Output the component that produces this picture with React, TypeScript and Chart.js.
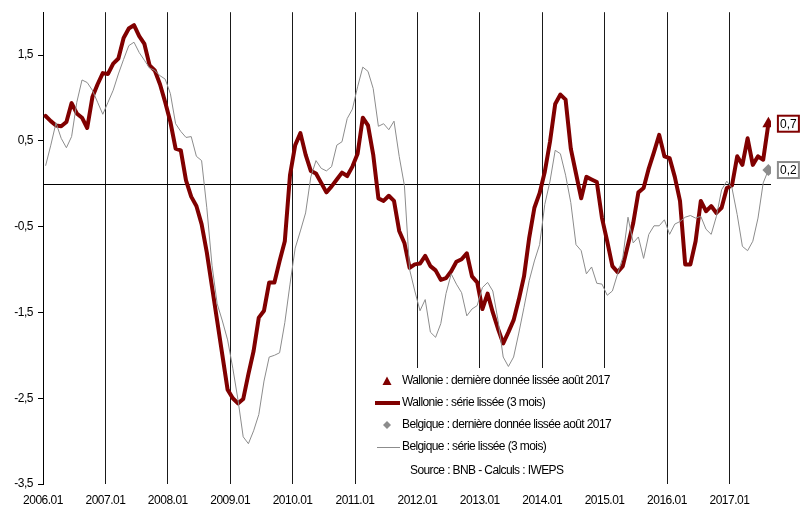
import React, { useEffect, useRef } from "react";
import { Chart, registerables } from "chart.js";

Chart.register(...registerables);

// ---- Data ----
const yearLabels = [
  "2006.01", "2007.01", "2008.01", "2009.01", "2010.01", "2011.01",
  "2012.01", "2013.01", "2014.01", "2015.01", "2016.01", "2017.01",
];
const yTicks = [-3.5, -2.5, -1.5, -0.5, 0.5, 1.5];

// Monthly smoothed values, 2006.01 -> 2017.08
const wallonie = [
  0.79, 0.73, 0.68, 0.67, 0.72, 0.94, 0.82, 0.77, 0.65, 1.01, 1.16, 1.29,
  1.28, 1.40, 1.46, 1.70, 1.81, 1.85, 1.72, 1.63, 1.38, 1.32, 1.16, 0.95,
  0.72, 0.41, 0.39, 0.04, -0.15, -0.26, -0.47, -0.80, -1.20, -1.60, -2.00, -2.40,
  -2.50, -2.56, -2.51, -2.22, -1.95, -1.56, -1.48, -1.15, -1.15, -0.90, -0.67, 0.10,
  0.45, 0.59, 0.34, 0.15, 0.12, 0.01, -0.10, -0.03, 0.05, 0.13, 0.09, 0.20,
  0.35, 0.77, 0.68, 0.34, -0.17, -0.20, -0.14, -0.20, -0.55, -0.69, -0.98, -0.94,
  -0.93, -0.84, -0.96, -1.01, -1.12, -1.10, -1.02, -0.91, -0.88, -0.81, -1.08, -1.15,
  -1.46, -1.28, -1.50, -1.69, -1.86, -1.73, -1.59, -1.35, -1.08, -0.63, -0.28, -0.11,
  0.14, 0.49, 0.93, 1.04, 0.98, 0.41, 0.12, -0.17, 0.08, 0.05, 0.02, -0.40,
  -0.67, -0.96, -1.03, -0.96, -0.71, -0.46, -0.10, -0.05, 0.18, 0.37, 0.57, 0.32,
  0.30, 0.08, -0.20, -0.94, -0.94, -0.67, -0.20, -0.32, -0.26, -0.34, -0.28, -0.05,
  -0.02, 0.32, 0.22, 0.53, 0.22, 0.32, 0.28, 0.70,
];
const belgique = [
  0.21, 0.45, 0.71, 0.53, 0.42, 0.55, 0.95, 1.21, 1.18, 1.09, 0.95, 0.81,
  0.95, 1.09, 1.28, 1.45, 1.61, 1.65, 1.53, 1.44, 1.35, 1.32, 1.26, 1.22,
  1.05, 0.70, 0.61, 0.54, 0.55, 0.32, 0.27, -0.28, -0.95, -1.40, -1.60, -1.82,
  -2.15, -2.52, -2.95, -3.03, -2.88, -2.69, -2.30, -2.02, -2.00, -1.97, -1.62, -1.17,
  -0.75, -0.55, -0.34, 0.08, 0.27, 0.18, 0.15, 0.20, 0.45, 0.49, 0.76, 0.87,
  1.13, 1.36, 1.31, 1.11, 0.67, 0.70, 0.63, 0.73, 0.32, -0.02, -1.00, -1.25,
  -1.48, -1.35, -1.73, -1.79, -1.63, -1.28, -1.05, -1.17, -1.27, -1.54, -1.46, -1.42,
  -1.21, -1.15, -1.25, -1.59, -2.02, -2.13, -2.02, -1.74, -1.44, -1.13, -0.90, -0.71,
  -0.24, 0.03, 0.39, 0.35, 0.10, -0.22, -0.71, -0.78, -1.05, -0.97, -1.16, -1.17,
  -1.30, -1.25, -1.05, -0.86, -0.39, -0.69, -0.62, -0.87, -0.59, -0.49, -0.49, -0.42,
  -0.59, -0.47, -0.44, -0.39, -0.37, -0.40, -0.38, -0.53, -0.59, -0.38, -0.07, 0.03,
  -0.05, -0.36, -0.73, -0.78, -0.67, -0.40, 0.01, 0.16,
];
const legendLabels = [
  "Wallonie : dernière donnée lissée août 2017",
  "Wallonie : série lissée (3 mois)",
  "Belgique : dernière donnée lissée août 2017",
  "Belgique : série lissée (3 mois)",
];
const sourceText = "Source : BNB - Calculs : IWEPS";

const RED = "#800000";
const GRAY = "#8c8c8c";
const FONT = "'Liberation Sans', Arial, sans-serif";

const fmt = (v: number) => v.toFixed(1).replace(".", ",");

const decorPlugin = {
  id: "decor",
  beforeDraw(chart: any) {
    chart.ctx.letterSpacing = "-0.5px";
  },
  beforeDatasetsDraw(chart: any) {
    const { ctx, chartArea, scales } = chart;
    const y0 = Math.round(scales.y.getPixelForValue(0)) + 0.5;
    ctx.save();
    ctx.strokeStyle = "#000";
    ctx.lineWidth = 1;
    ctx.beginPath();
    ctx.moveTo(chartArea.left, y0);
    ctx.lineTo(chartArea.right, y0);
    ctx.stroke();
    ctx.restore();
  },
  afterDraw(chart: any) {
    const { ctx, scales } = chart;
    ctx.save();
    ctx.letterSpacing = "-0.6px";
    // Legend block
    ctx.fillStyle = "#fff";
    ctx.fillRect(370, 368, 250, 116);
    ctx.font = `12px ${FONT}`;
    ctx.textBaseline = "middle";
    ctx.textAlign = "left";
    const rows = [381, 403, 425, 447];
    const sx = 387;
    // triangle
    ctx.fillStyle = RED;
    ctx.beginPath();
    ctx.moveTo(sx, rows[0] - 4.5);
    ctx.lineTo(sx + 4.5, rows[0] + 4);
    ctx.lineTo(sx - 4.5, rows[0] + 4);
    ctx.closePath();
    ctx.fill();
    // thick red line
    ctx.strokeStyle = RED;
    ctx.lineWidth = 4;
    ctx.beginPath();
    ctx.moveTo(375, rows[1]);
    ctx.lineTo(400, rows[1]);
    ctx.stroke();
    // diamond
    ctx.fillStyle = GRAY;
    ctx.beginPath();
    ctx.moveTo(sx, rows[2] - 4);
    ctx.lineTo(sx + 4, rows[2]);
    ctx.lineTo(sx, rows[2] + 4);
    ctx.lineTo(sx - 4, rows[2]);
    ctx.closePath();
    ctx.fill();
    // thin gray line
    ctx.strokeStyle = GRAY;
    ctx.lineWidth = 1;
    ctx.beginPath();
    ctx.moveTo(377, rows[3] + 0.5);
    ctx.lineTo(400, rows[3] + 0.5);
    ctx.stroke();
    ctx.fillStyle = "#000";
    legendLabels.forEach((t, i) => ctx.fillText(t, 402, rows[i]));
    ctx.fillText(sourceText, 410, 471);

    // End-value labels
    const last = wallonie.length - 1;
    const items = [
      { v: wallonie[last], c: RED },
      { v: belgique[last], c: GRAY },
    ];
    ctx.letterSpacing = "0px";
    items.forEach((it) => {
      const px = scales.x.getPixelForValue(last + 0.5);
      const py = scales.y.getPixelForValue(it.v);
      const left = px + 9.5;
      const w = 21;
      const h = 16;
      ctx.fillStyle = "#fff";
      ctx.fillRect(left, py - h / 2, w, h);
      ctx.strokeStyle = it.c;
      ctx.lineWidth = 2;
      ctx.strokeRect(left, py - h / 2, w, h);
      ctx.fillStyle = "#000";
      ctx.textAlign = "center";
      ctx.fillText(fmt(it.v), left + w / 2, py + 0.5);
    });
    ctx.restore();
  },
};

export default function App() {
  const ref = useRef<HTMLCanvasElement | null>(null);

  useEffect(() => {
    document.body.style.margin = "0";
    const canvas = ref.current;
    if (!canvas) return;
    Chart.defaults.font.family = FONT;
    Chart.defaults.font.size = 12;
    Chart.defaults.color = "#000";

    const last = wallonie.length - 1;
    const toPts = (arr: number[]) => arr.map((v, i) => ({ x: i + 0.5, y: v }));

    const chart = new Chart(canvas, {
      type: "line",
      data: {
        datasets: [
          {
            label: legendLabels[3],
            data: toPts(belgique),
            borderColor: GRAY,
            borderWidth: 1,
            pointRadius: 0,
            tension: 0,
            order: 1,
          },
          {
            label: legendLabels[2],
            data: [{ x: last + 0.5, y: belgique[last] }],
            showLine: false,
            pointStyle: "rectRot",
            pointRadius: 6,
            backgroundColor: GRAY,
            borderColor: GRAY,
            borderWidth: 0,
            order: 0,
          },
          {
            label: legendLabels[1],
            data: toPts(wallonie),
            borderColor: RED,
            borderWidth: 4,
            pointRadius: 0,
            tension: 0,
            borderJoinStyle: "round",
            borderCapStyle: "round",
            order: 2,
          },
          {
            label: legendLabels[0],
            data: [{ x: last + 0.5, y: wallonie[last] }],
            showLine: false,
            pointStyle: "triangle",
            pointRadius: 7,
            backgroundColor: RED,
            borderColor: RED,
            borderWidth: 0,
            order: 0,
          },
        ],
      },
      options: {
        animation: false,
        responsive: false,
        layout: { padding: { left: 0, top: 10, right: 30, bottom: 0 } },
        plugins: {
          legend: { display: false },
          tooltip: { enabled: false },
        },
        scales: {
          x: {
            type: "linear",
            min: 0,
            max: wallonie.length,
            afterFit: (s: any) => {
              s.height = 24;
            },
            afterBuildTicks: (s: any) => {
              s.ticks = yearLabels.map((_, i) => ({ value: i * 12 }));
            },
            ticks: {
              autoSkip: false,
              maxRotation: 0,
              padding: 9,
              font: { size: 12 },
              callback: (v: any) => yearLabels[Math.round(Number(v) / 12)],
            },
            grid: {
              color: "#1a1a1a",
              lineWidth: 1,
              drawTicks: false,
            },
            border: { display: false },
          },
          y: {
            type: "linear",
            min: -3.5,
            max: 2,
            afterFit: (s: any) => {
              s.width = 43;
            },
            afterBuildTicks: (s: any) => {
              s.ticks = yTicks.map((v) => ({ value: v }));
            },
            ticks: {
              padding: 5,
              font: { size: 12 },
              callback: (v: any) => fmt(Number(v)),
            },
            grid: {
              drawOnChartArea: false,
              drawTicks: true,
              tickLength: 5,
              color: "#000",
            },
            border: { display: true, color: "#000", width: 1 },
          },
        },
      },
      plugins: [decorPlugin],
    } as any);

    return () => chart.destroy();
  }, []);

  return (
    <div style={{ width: 801, height: 508 }}>
      <canvas ref={ref} width={801} height={508} style={{ display: "block" }} />
    </div>
  );
}
